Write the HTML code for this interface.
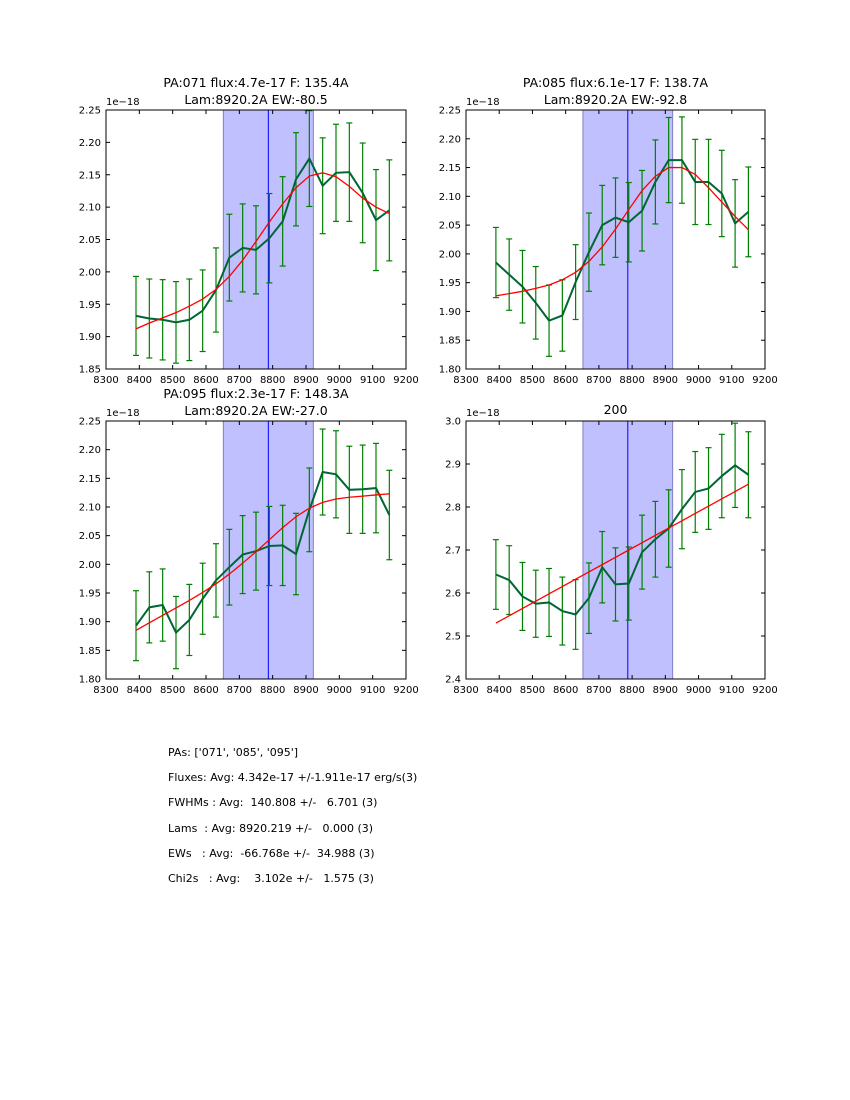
<!DOCTYPE html>
<html><head><meta charset="utf-8"><style>
body{margin:0;background:#fff;width:850px;height:1100px;overflow:hidden}
svg text{font-family:"DejaVu Sans","Liberation Sans",sans-serif}
#stats{position:absolute;left:168px;top:740px;font-family:"DejaVu Sans","Liberation Sans",sans-serif;font-size:11px;white-space:pre;line-height:25.2px;color:#000}
</style></head><body>
<svg id="fig" width="850" height="1100" style="position:absolute;left:0;top:0"></svg>
<div id="stats"><div>PAs: ['071', '085', '095']</div><div>Fluxes: Avg: 4.342e-17 +/-1.911e-17 erg/s(3)</div><div>FWHMs : Avg:  140.808 +/-   6.701 (3)</div><div>Lams  : Avg: 8920.219 +/-   0.000 (3)</div><div>EWs   : Avg:  -66.768e +/-  34.988 (3)</div><div>Chi2s   : Avg:    3.102e +/-   1.575 (3)</div></div>
<script>
const wavelengths=[8390,8430,8470,8510,8550,8590,8630,8670,8710,8750,8790,8830,8870,8910,8950,8990,9030,9070,9110,9150];
const xTicks=[8300,8400,8500,8600,8700,8800,8900,9000,9100,9200];
const flux071=[1.932,1.928,1.926,1.922,1.926,1.940,1.972,2.022,2.037,2.034,2.052,2.078,2.143,2.175,2.133,2.153,2.154,2.122,2.080,2.095];
const err071=[0.061,0.061,0.062,0.063,0.063,0.063,0.065,0.067,0.068,0.068,0.069,0.069,0.072,0.074,0.074,0.075,0.076,0.077,0.078,0.078];
const fit071=[1.912,1.921,1.929,1.937,1.947,1.958,1.973,1.993,2.018,2.047,2.077,2.105,2.130,2.148,2.153,2.147,2.132,2.114,2.100,2.090];
const flux085=[1.985,1.964,1.943,1.915,1.884,1.893,1.951,2.003,2.050,2.063,2.055,2.075,2.125,2.163,2.163,2.125,2.125,2.105,2.053,2.073];
const err085=[0.061,0.062,0.063,0.063,0.062,0.062,0.065,0.068,0.069,0.069,0.069,0.070,0.073,0.074,0.075,0.074,0.074,0.075,0.076,0.078];
const fit085=[1.927,1.931,1.935,1.940,1.946,1.955,1.968,1.987,2.012,2.043,2.077,2.110,2.135,2.150,2.150,2.138,2.115,2.090,2.065,2.042];
const flux095=[1.893,1.925,1.929,1.881,1.903,1.940,1.972,1.995,2.017,2.023,2.032,2.033,2.018,2.095,2.161,2.157,2.130,2.131,2.133,2.086];
const err095=[0.061,0.062,0.063,0.063,0.062,0.062,0.064,0.066,0.068,0.068,0.069,0.070,0.071,0.073,0.075,0.076,0.076,0.077,0.078,0.078];
const fit095=[1.885,1.898,1.911,1.924,1.937,1.951,1.966,1.983,2.002,2.022,2.043,2.064,2.083,2.098,2.108,2.114,2.117,2.119,2.121,2.123];
const flux200=[2.643,2.630,2.592,2.575,2.578,2.558,2.550,2.588,2.660,2.620,2.622,2.695,2.725,2.750,2.795,2.835,2.843,2.872,2.897,2.875];
const err200=[0.081,0.080,0.079,0.078,0.079,0.079,0.081,0.082,0.083,0.085,0.085,0.086,0.088,0.090,0.092,0.094,0.095,0.097,0.098,0.100];
const fit200=[2.530,2.547,2.564,2.581,2.598,2.615,2.632,2.649,2.666,2.683,2.700,2.717,2.734,2.751,2.768,2.785,2.802,2.819,2.836,2.853];
const yTicksA=[1.85,1.90,1.95,2.00,2.05,2.10,2.15,2.20,2.25];
const yTicksB=[1.80,1.85,1.90,1.95,2.00,2.05,2.10,2.15,2.20,2.25];
const yTicks200=[2.4,2.5,2.6,2.7,2.8,2.9,3.0];
const bandLo=8652, bandHi=8922, lineCenter=8787;

const NS='http://www.w3.org/2000/svg';
const svg=document.getElementById('fig');
function mk(tag,attrs,parent){const e=document.createElementNS(NS,tag);for(const k in attrs)e.setAttribute(k,attrs[k]);(parent||svg).appendChild(e);return e;}

function panel(id,L,T,W,H,yTicks,digits,flux,err,fit,t1,t2){
  const g=mk('g',{});
  
  
  const y0=yTicks[0],y1=yTicks[yTicks.length-1];
  const X=v=>L+(v-8300)/900*W, Y=v=>T+H-(v-y0)/(y1-y0)*H;
  const band=mk('rect',{x:X(bandLo),y:T,width:X(bandHi)-X(bandLo),height:H,fill:'#c0c0ff',stroke:'#8080c0','stroke-width':1},g);
  
  
  const cl=mk('line',{x1:X(lineCenter),x2:X(lineCenter),y1:T,y2:T+H,stroke:'#0000ff','stroke-width':1},g);
  
  
  const eb=mk('g',{stroke:'#008000','stroke-width':1.2},g);
  
  
  wavelengths.forEach((w,i)=>{const x=X(w),a=Y(flux[i]-err[i]),b=Y(flux[i]+err[i]);
    mk('line',{x1:x,x2:x,y1:a,y2:b},eb);mk('line',{x1:x-3,x2:x+3,y1:a,y2:a},eb);mk('line',{x1:x-3,x2:x+3,y1:b,y2:b},eb);});
  const cp=mk('clipPath',{id:'c'+id},g);mk('rect',{x:L,y:T,width:W,height:H},cp);
  const dl=mk('polyline',{points:wavelengths.map((w,i)=>X(w)+','+Y(flux[i])).join(' '),fill:'none',stroke:'#006633','stroke-width':2,'clip-path':'url(#c'+id+')'},g);
  
  
  const fl=mk('polyline',{points:wavelengths.map((w,i)=>X(w)+','+Y(fit[i])).join(' '),fill:'none',stroke:'#ff0000','stroke-width':1.3},g);
  
  
  const fr=mk('rect',{x:L,y:T,width:W,height:H,fill:'none',stroke:'#000','stroke-width':1},g);
  
  
  xTicks.forEach(v=>{const x=X(v);mk('line',{x1:x,x2:x,y1:T,y2:T+4,stroke:'#000'},g);mk('line',{x1:x,x2:x,y1:T+H,y2:T+H-4,stroke:'#000'},g);
    const t=mk('text',{x:x,y:T+H+14,'font-size':10,'text-anchor':'middle'},g);t.textContent=v;
    
    });
  yTicks.forEach(v=>{const y=Y(v);mk('line',{x1:L,x2:L+4,y1:y,y2:y,stroke:'#000'},g);mk('line',{x1:L+W,x2:L+W-4,y1:y,y2:y,stroke:'#000'},g);
    const t=mk('text',{x:L-5,y:y+3.5,'font-size':10,'text-anchor':'end'},g);t.textContent=v.toFixed(digits);
    
    });
  const ex=mk('text',{x:L,y:T-5,'font-size':10},g);ex.textContent='1e\u221218';
  
  
  if(t2){const a=mk('text',{x:L+W/2,y:T-23,'font-size':12.5,'text-anchor':'middle'},g);a.textContent=t1;
    
    
    const b=mk('text',{x:L+W/2,y:T-6,'font-size':12.5,'text-anchor':'middle'},g);b.textContent=t2;
    
    }
  else{const a=mk('text',{x:L+W/2,y:T-7,'font-size':12.5,'text-anchor':'middle'},g);a.textContent=t1;
    
    }
}
panel('panel-pa071',106,110,300,259,yTicksA,2,flux071,err071,fit071,'PA:071 flux:4.7e-17 F: 135.4A','Lam:8920.2A EW:-80.5');
panel('panel-pa085',466,110,299,259,yTicksB,2,flux085,err085,fit085,'PA:085 flux:6.1e-17 F: 138.7A','Lam:8920.2A EW:-92.8');
panel('panel-pa095',106,421,300,258,yTicksB,2,flux095,err095,fit095,'PA:095 flux:2.3e-17 F: 148.3A','Lam:8920.2A EW:-27.0');
panel('panel-200',466,421,299,258,yTicks200,1,flux200,err200,fit200,'200',null);
</script>
</body></html>
